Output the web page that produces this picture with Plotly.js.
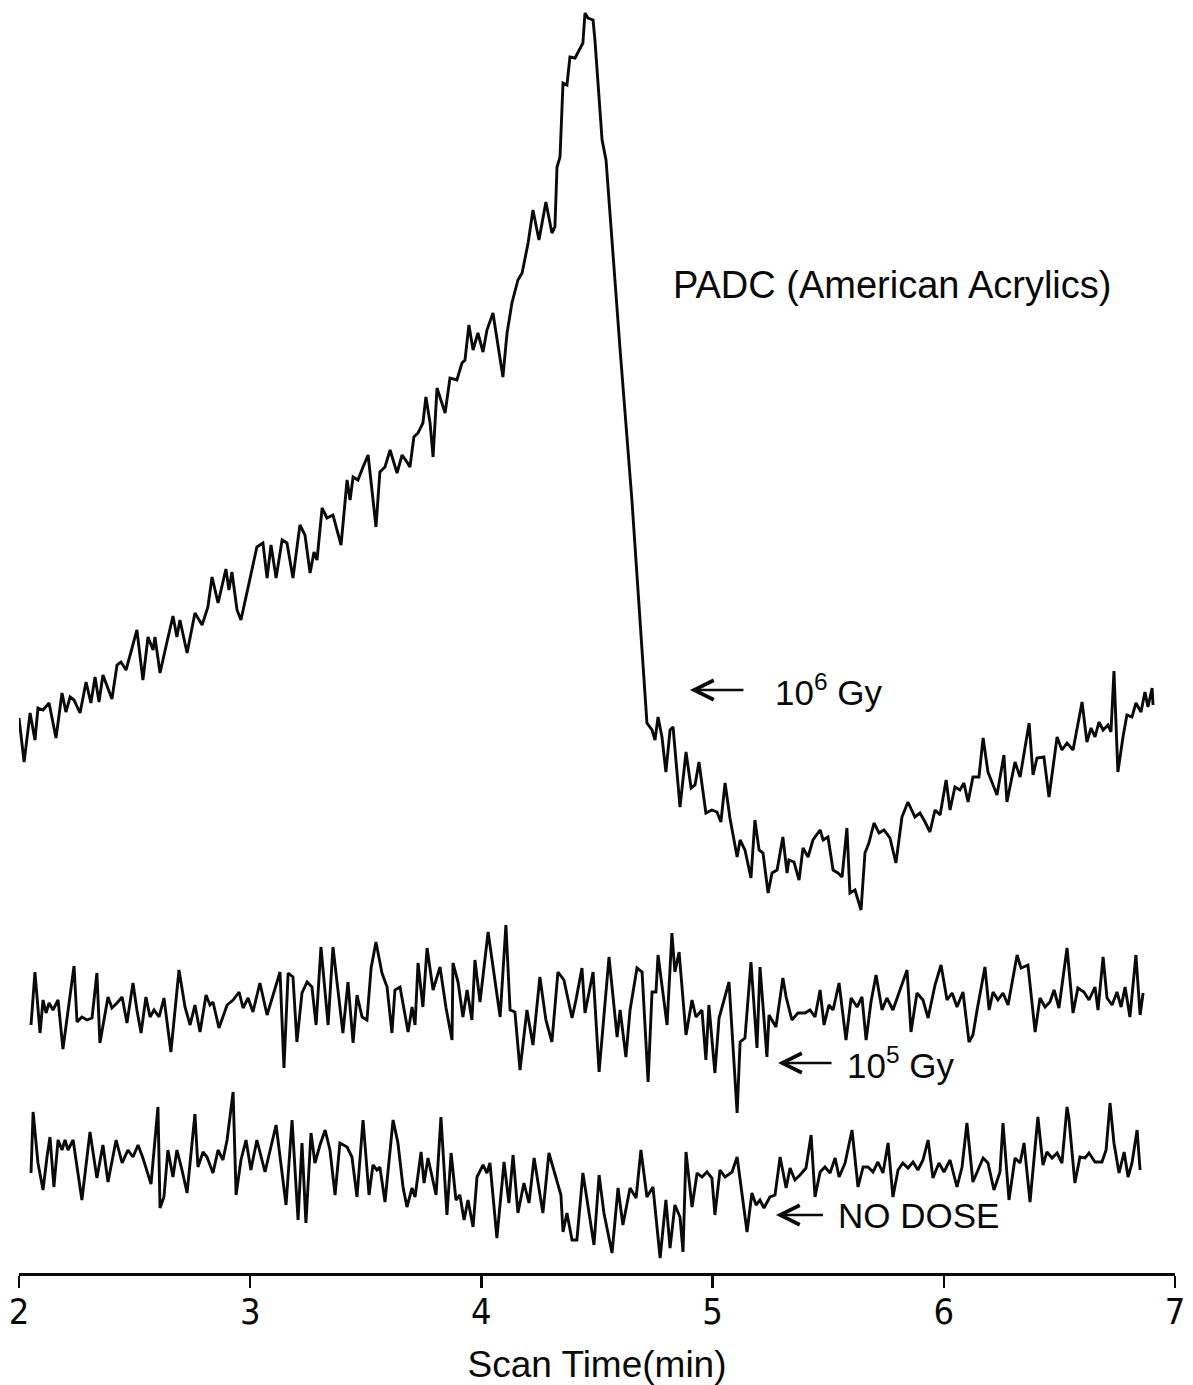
<!DOCTYPE html>
<html>
<head>
<meta charset="utf-8">
<script src="https://cdn.plot.ly/plotly-3.0.1.min.js"></script>
<style>html,body{margin:0;padding:0;background:#fff;}#chart{width:1193px;height:1385px;}</style>
</head>
<body>
<div id="chart"></div>
<script>
// Scan time (min) vs. detector signal (arbitrary units)
const dose1e6Gy = [
[2.000,555],[2.022,511],[2.048,560],[2.069,533],[2.082,565],[2.104,563],[2.130,570],[2.160,535],[2.186,580],[2.203,561],
[2.221,576],[2.238,573],[2.264,560],[2.290,591],[2.311,570],[2.329,596],[2.346,571],[2.363,598],[2.402,574],[2.424,608],
[2.441,611],[2.463,603],[2.510,643],[2.536,593],[2.558,636],[2.580,623],[2.588,636],[2.610,600],[2.640,631],[2.666,657],
[2.683,636],[2.696,653],[2.727,620],[2.761,660],[2.792,648],[2.817,666],[2.835,696],[2.861,670],[2.895,704],[2.908,683],
[2.921,701],[2.943,663],[2.960,653],[3.029,726],[3.055,730],[3.073,695],[3.090,728],[3.112,695],[3.138,733],[3.159,730],
[3.185,695],[3.215,748],[3.237,738],[3.259,700],[3.276,721],[3.289,713],[3.311,765],[3.332,755],[3.358,758],[3.393,728],
[3.419,793],[3.432,773],[3.445,796],[3.466,793],[3.488,806],[3.510,818],[3.544,746],[3.561,801],[3.583,806],[3.605,823],
[3.635,800],[3.657,818],[3.678,811],[3.691,806],[3.708,836],[3.726,840],[3.747,850],[3.760,876],[3.778,850],[3.791,816],
[3.808,885],[3.825,873],[3.843,860],[3.864,895],[3.894,893],[3.916,910],[3.929,913],[3.946,948],[3.964,923],[3.985,940],
[4.007,921],[4.024,943],[4.050,960],[4.093,896],[4.111,940],[4.132,970],[4.158,993],[4.176,1000],[4.202,1030],[4.223,1063],
[4.249,1033],[4.279,1071],[4.305,1040],[4.318,1046],[4.327,1106],[4.340,1116],[4.353,1190],[4.370,1188],[4.383,1216],[4.405,1215],
[4.422,1223],[4.439,1230],[4.448,1260],[4.461,1255],[4.483,1253],[4.491,1233],[4.522,1133],[4.539,1113],[4.600,923],[4.651,773],
[4.716,550],[4.738,543],[4.751,533],[4.764,556],[4.781,536],[4.798,501],[4.816,543],[4.829,546],[4.859,466],[4.885,521],
[4.907,485],[4.924,488],[4.941,511],[4.971,460],[4.997,463],[5.019,461],[5.036,451],[5.054,490],[5.075,455],[5.106,416],
[5.119,433],[5.140,423],[5.166,395],[5.183,453],[5.201,423],[5.218,420],[5.240,380],[5.257,400],[5.279,403],[5.304,436],
[5.322,400],[5.330,413],[5.352,411],[5.374,393],[5.391,425],[5.413,416],[5.434,433],[5.465,443],[5.478,433],[5.499,436],
[5.521,403],[5.542,400],[5.560,396],[5.581,445],[5.594,380],[5.616,383],[5.642,363],[5.659,420],[5.676,430],[5.698,450],
[5.720,440],[5.741,443],[5.767,435],[5.793,410],[5.819,456],[5.845,471],[5.875,456],[5.897,460],[5.919,451],[5.940,441],
[5.962,463],[5.984,458],[6.010,493],[6.027,463],[6.048,486],[6.070,483],[6.087,490],[6.105,471],[6.126,496],[6.152,496],
[6.170,535],[6.191,501],[6.230,478],[6.260,518],[6.273,471],[6.308,511],[6.330,496],[6.369,550],[6.386,498],[6.403,515],
[6.433,516],[6.455,476],[6.490,536],[6.511,523],[6.533,530],[6.559,523],[6.598,571],[6.619,531],[6.637,545],[6.654,536],
[6.671,551],[6.689,543],[6.710,548],[6.723,541],[6.736,602],[6.753,501],[6.775,536],[6.792,558],[6.814,556],[6.831,570],
[6.853,561],[6.870,581],[6.883,566],[6.901,585],[6.905,568]
];

const dose1e5Gy = [
[2.052,248],[2.069,301],[2.091,240],[2.104,273],[2.117,260],[2.130,270],[2.147,263],[2.169,273],[2.190,224],[2.238,307],
[2.251,251],[2.272,256],[2.294,253],[2.316,255],[2.337,300],[2.350,230],[2.385,276],[2.402,265],[2.424,270],[2.446,276],
[2.467,250],[2.493,290],[2.510,263],[2.528,240],[2.549,276],[2.567,256],[2.584,263],[2.606,256],[2.627,275],[2.657,221],
[2.692,303],[2.718,266],[2.740,248],[2.761,268],[2.783,241],[2.809,278],[2.826,268],[2.839,271],[2.865,245],[2.900,268],
[2.926,273],[2.952,281],[2.969,265],[2.991,275],[3.012,261],[3.042,290],[3.073,258],[3.129,301],[3.146,205],[3.164,300],
[3.185,296],[3.202,231],[3.224,280],[3.246,291],[3.267,286],[3.285,248],[3.306,326],[3.337,248],[3.358,326],[3.401,240],
[3.423,291],[3.445,230],[3.462,278],[3.484,256],[3.505,253],[3.523,305],[3.544,331],[3.570,300],[3.592,286],[3.613,240],
[3.626,283],[3.648,286],[3.683,241],[3.700,266],[3.713,248],[3.726,310],[3.747,266],[3.765,325],[3.791,283],[3.821,306],
[3.847,265],[3.873,233],[3.877,310],[3.899,291],[3.920,256],[3.938,283],[3.959,253],[3.972,313],[3.994,271],[4.029,341],
[4.081,256],[4.106,348],[4.124,263],[4.145,261],[4.167,203],[4.197,263],[4.223,228],[4.253,296],[4.279,253],[4.305,231],
[4.331,301],[4.357,293],[4.392,255],[4.409,273],[4.435,305],[4.448,260],[4.483,301],[4.509,201],[4.552,316],[4.587,236],
[4.600,263],[4.625,216],[4.643,263],[4.673,305],[4.695,301],[4.721,191],[4.738,281],[4.755,281],[4.764,318],[4.803,248],
[4.824,340],[4.837,301],[4.855,321],[4.885,238],[4.911,273],[4.928,256],[4.954,263],[4.971,213],[4.984,268],[5.010,200],
[5.028,255],[5.054,276],[5.071,291],[5.106,160],[5.119,231],[5.140,235],[5.166,311],[5.192,225],[5.205,306],[5.235,216],
[5.244,258],[5.274,246],[5.304,295],[5.318,276],[5.343,253],[5.369,260],[5.400,260],[5.421,263],[5.443,256],[5.465,283],
[5.482,248],[5.503,268],[5.521,263],[5.547,290],[5.577,233],[5.599,275],[5.625,266],[5.646,276],[5.664,233],[5.685,271],
[5.707,298],[5.733,263],[5.754,275],[5.780,263],[5.811,283],[5.841,303],[5.858,241],[5.884,280],[5.910,273],[5.932,255],
[5.962,288],[5.988,308],[6.014,273],[6.036,280],[6.057,266],[6.083,281],[6.109,231],[6.126,238],[6.144,263],[6.178,306],
[6.196,263],[6.213,281],[6.234,273],[6.256,280],[6.278,268],[6.317,318],[6.334,305],[6.364,308],[6.395,241],[6.416,275],
[6.438,266],[6.459,271],[6.477,283],[6.498,265],[6.533,325],[6.559,260],[6.580,285],[6.606,281],[6.628,273],[6.654,286],
[6.667,263],[6.689,316],[6.706,275],[6.728,268],[6.749,281],[6.767,266],[6.784,286],[6.805,256],[6.831,318],[6.849,258],
[6.862,280]
];

const noDose = [
[2.052,100],[2.061,161],[2.082,110],[2.104,83],[2.121,116],[2.134,136],[2.151,86],[2.169,133],[2.186,123],[2.199,133],
[2.212,123],[2.234,133],[2.272,73],[2.307,141],[2.337,95],[2.363,128],[2.385,91],[2.420,133],[2.446,110],[2.471,123],
[2.493,116],[2.515,128],[2.536,115],[2.571,89],[2.601,166],[2.610,65],[2.627,76],[2.644,123],[2.666,96],[2.683,123],
[2.705,103],[2.727,80],[2.761,159],[2.774,106],[2.796,121],[2.813,116],[2.839,100],[2.861,123],[2.882,113],[2.900,133],
[2.926,181],[2.939,78],[2.960,113],[2.982,133],[3.003,103],[3.029,133],[3.064,101],[3.112,148],[3.155,68],[3.181,153],
[3.207,53],[3.224,130],[3.241,50],[3.263,140],[3.280,110],[3.302,128],[3.324,143],[3.345,123],[3.367,78],[3.388,130],
[3.419,126],[3.440,116],[3.462,76],[3.488,153],[3.514,78],[3.531,108],[3.548,103],[3.561,106],[3.583,71],[3.618,153],
[3.639,130],[3.661,86],[3.678,66],[3.700,85],[3.713,76],[3.739,121],[3.752,90],[3.769,115],[3.804,78],[3.825,156],
[3.851,58],[3.869,120],[3.890,73],[3.907,78],[3.925,53],[3.942,73],[3.964,46],[3.981,96],[4.007,108],[4.024,100],
[4.037,110],[4.067,35],[4.098,111],[4.119,70],[4.137,118],[4.158,60],[4.184,90],[4.206,70],[4.228,115],[4.266,60],
[4.292,120],[4.318,98],[4.344,78],[4.353,41],[4.370,60],[4.392,33],[4.413,33],[4.439,100],[4.461,65],[4.487,28],
[4.509,98],[4.530,60],[4.565,20],[4.591,85],[4.612,48],[4.643,85],[4.669,75],[4.690,123],[4.716,76],[4.742,86],
[4.773,15],[4.798,73],[4.816,25],[4.837,68],[4.859,56],[4.872,21],[4.885,121],[4.911,66],[4.933,100],[4.954,96],
[4.976,101],[4.997,95],[5.010,58],[5.032,103],[5.054,96],[5.084,101],[5.106,116],[5.149,41],[5.170,80],[5.188,68],
[5.205,73],[5.222,65],[5.248,76],[5.270,78],[5.292,116],[5.318,85],[5.335,105],[5.356,93],[5.378,98],[5.404,105],
[5.426,138],[5.443,76],[5.465,101],[5.486,106],[5.508,100],[5.530,115],[5.547,96],[5.573,110],[5.603,143],[5.629,86],
[5.651,106],[5.672,106],[5.694,101],[5.715,111],[5.737,100],[5.759,130],[5.780,76],[5.802,103],[5.823,110],[5.845,105],
[5.867,111],[5.888,103],[5.910,113],[5.932,133],[5.953,95],[5.979,110],[6.001,101],[6.027,113],[6.057,86],[6.079,106],
[6.100,150],[6.126,91],[6.148,103],[6.170,115],[6.191,110],[6.217,83],[6.243,101],[6.256,150],[6.282,73],[6.308,115],
[6.330,110],[6.347,130],[6.373,71],[6.407,156],[6.429,108],[6.446,121],[6.468,115],[6.490,120],[6.511,110],[6.533,166],
[6.541,155],[6.567,90],[6.589,116],[6.611,115],[6.628,120],[6.654,111],[6.684,111],[6.702,123],[6.719,170],[6.736,130],
[6.758,100],[6.780,121],[6.797,96],[6.814,110],[6.836,143],[6.849,103]
];

const xTicks = [2, 3, 4, 5, 6, 7];
const xTickText = ['2', '3', '4', '5', '6', '7'];
const xTitle = 'Scan Time(min)';
const sampleLabel = 'PADC (American Acrylics)';
const doseLabels = ['10<sup>6</sup> Gy', '10<sup>5</sup> Gy', 'NO DOSE'];
// arrow tip positions (scan time, signal) for each dose label
const doseArrowTips = [[4.902, 583], [5.283, 210], [5.274, 58]];
const samplePos = [5.775, 988];

const lineStyle = {color: '#0a0a0a', width: 2.9};
function mk(arr, name) {
  return {x: arr.map(p => p[0]), y: arr.map(p => p[1]), mode: 'lines', name: name,
          line: lineStyle, hoverinfo: 'skip'};
}
const data = [mk(dose1e6Gy, '10^6 Gy'), mk(dose1e5Gy, '10^5 Gy'), mk(noDose, 'No dose')];

const txtFont = {family: 'Liberation Sans, Arial, Helvetica, sans-serif', size: 35, color: '#0a0a0a'};
// text offset (px from tip to text centre) and gap between arrow tail and text
const arrowGeom = [{ax: 139, gap: 30}, {ax: 123, gap: 14}, {ax: 143, gap: 14}];
function doseAnn(i) {
  return {x: doseArrowTips[i][0], y: doseArrowTips[i][1], xref: 'x', yref: 'y',
          text: doseLabels[i], font: txtFont, showarrow: true,
          ax: arrowGeom[i].ax, ay: 0, arrowhead: 5, arrowsize: 1.6, arrowwidth: 2.4,
          arrowcolor: '#0a0a0a', standoff: 0, startstandoff: arrowGeom[i].gap};
}

const layout = {
  width: 1193, height: 1385,
  margin: {l: 19, r: 18, t: 10, b: 112},
  paper_bgcolor: '#ffffff', plot_bgcolor: '#ffffff',
  showlegend: false,
  xaxis: {
    range: [2, 7], tickvals: xTicks, ticktext: xTickText,
    showline: true, linecolor: '#0a0a0a', linewidth: 3,
    ticks: 'outside', ticklen: 12, tickwidth: 2.5, tickcolor: '#0a0a0a',
    ticklabelstandoff: -7,
    showgrid: false, zeroline: false,
    tickfont: {family: 'Liberation Sans Narrow, DejaVu Sans Condensed, Arial Narrow, sans-serif', size: 36, color: '#0a0a0a'},
    title: {text: xTitle, standoff: 20,
            font: {family: 'Liberation Sans, Arial, sans-serif', size: 37, color: '#0a0a0a'}}
  },
  yaxis: {range: [0, 1263], visible: false, showgrid: false, zeroline: false, fixedrange: true},
  annotations: [
    {x: samplePos[0], y: samplePos[1], xref: 'x', yref: 'y', text: sampleLabel,
     showarrow: false, xanchor: 'center', yanchor: 'middle',
     font: {family: txtFont.family, size: 38, color: '#0a0a0a'}},
    doseAnn(0), doseAnn(1), doseAnn(2)
  ]
};

Plotly.newPlot('chart', data, layout, {displayModeBar: false, staticPlot: true});
</script>
</body>
</html>
